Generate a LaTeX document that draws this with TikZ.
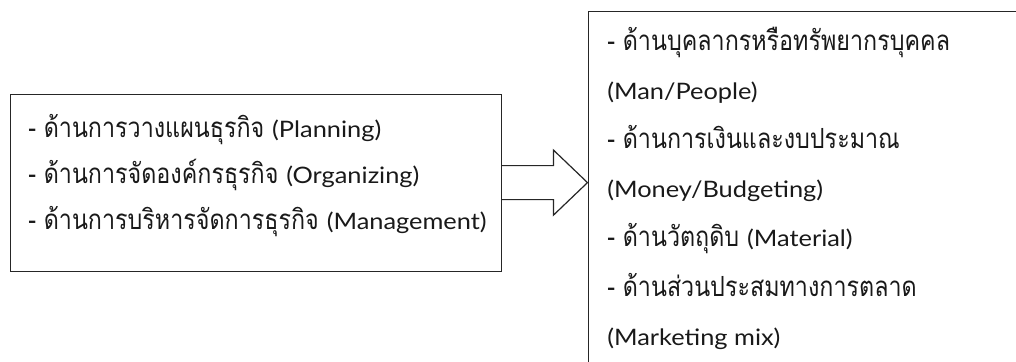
\documentclass[tikz,border=0pt]{standalone}
\usepackage{fontspec}
\newfontfamily\thaifont[Script=Thai,FakeStretch=0.84]{Loma}
\newfontfamily\latfont[FakeStretch=1.12]{Lato}
\newcommand\latn[1]{{\latfont\fontsize{17}{17}\selectfont #1}}
\usetikzlibrary{calc}
\tikzset{
  frame/.style={draw=black!85, line width=0.9pt, fill=none, inner sep=0pt, rectangle},
  txt/.style={anchor=base west, inner sep=0pt, font=\thaifont\fontsize{20.8}{20.8}\selectfont, text=black!90},
  blockarrow/.style={draw=black!85, line width=0.9pt, line join=miter},
}
\begin{document}
\begin{tikzpicture}[x=0.75pt,y=-0.75pt]
\useasboundingbox (0,0) rectangle (1016,361);
\clip (0,0) rectangle (1016,361);
% left box
\node[frame, minimum width=491*0.75pt, minimum height=177*0.75pt, anchor=north west] (leftbox) at (9.5,93.5) {};
% right box (runs off the right and bottom edges)
\node[frame, minimum width=460*0.75pt, minimum height=380*0.75pt, anchor=north west] (rightbox) at (587.5,11) {};
% texts in the left box
\node[txt] (l1) at (28,137) {- ด้านการวางแผนธุรกิจ \latn{(Planning)}};
\node[txt] (l2) at (28,183) {- ด้านการจัดองค์กรธุรกิจ \latn{(Organizing)}};
\node[txt] (l3) at (28,229) {- ด้านการบริหารจัดการธุรกิจ \latn{(Management)}};
% texts in the right box
\node[txt] (r1) at (607,50.5) {- ด้านบุคลากรหรือทรัพยากรบุคคล};
\node[txt] (r2) at (607,99.6) {\latn{(Man/People)}};
\node[txt] (r3) at (607,148.7) {- ด้านการเงินและงบประมาณ};
\node[txt] (r4) at (607,197.8) {\latn{(Money/Budgeting)}};
\node[txt] (r5) at (607,246.9) {- ด้านวัตถุดิบ \latn{(Material)}};
\node[txt] (r6) at (607,296) {- ด้านส่วนประสมทางการตลาด};
\node[txt] (r7) at (607,345.1) {\latn{(Marketing mix)}};
% block arrow from the left box to the right box
\coordinate (as) at (leftbox.east);
\coordinate (tip) at (rightbox.west |- leftbox.east);
\draw[blockarrow] ($(as)+(0,-17)$) -- ($(tip)+(-34,-17)$) -- ($(tip)+(-34,-32.5)$) -- (tip)
  -- ($(tip)+(-34,32.5)$) -- ($(tip)+(-34,17)$) -- ($(as)+(0,17)$);
\end{tikzpicture}
\end{document}
